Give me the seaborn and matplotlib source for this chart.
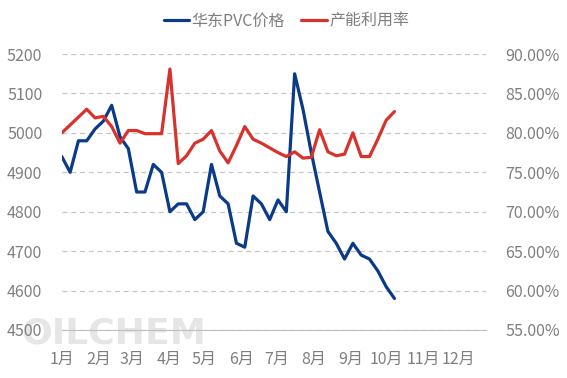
import pandas as pd
import matplotlib
matplotlib.use("Agg")
import matplotlib.pyplot as plt
import seaborn as sns
from matplotlib.lines import Line2D

# 周度数据
week_start = "2023-01-01"
pvc_price = [4940, 4900, 4980, 4980, 5010, 5030, 5070, 4990, 4960, 4850,
             4850, 4920, 4900, 4800, 4820, 4820, 4780, 4800, 4920, 4840,
             4820, 4720, 4710, 4840, 4820, 4780, 4830, 4800, 5150, 5060,
             4950, 4850, 4750, 4720, 4680, 4720, 4690, 4680, 4650, 4610,
             4580]
utilization = [80.0, 81.0, 82.0, 83.0, 81.9, 82.1, 80.8, 78.7, 80.3, 80.3,
               79.9, 79.9, 79.9, 88.1, 76.1, 77.1, 78.7, 79.2, 80.3, 77.7,
               76.2, 78.4, 80.8, 79.2, 78.7, 78.1, 77.5, 77.0, 77.6, 76.8,
               76.9, 80.4, 77.6, 77.1, 77.3, 80.0, 77.0, 77.0, 79.2, 81.6,
               82.7]
month_labels = [f"{m}月" for m in range(1, 13)]
series_names = ["华东PVC价格", "产能利用率"]

dates = pd.date_range(week_start, periods=len(pvc_price), freq="7D")
df = pd.DataFrame({"date": dates, "price": pvc_price, "rate": utilization})

sns.set_style("white")
plt.rcParams["font.family"] = ["Noto Sans CJK SC", "DejaVu Sans"]

blue = "#0b3a88"
red = "#d7322b"
grey = "#7f7f7f"

fig = plt.figure(figsize=(5.67, 3.78), dpi=100)
ax = fig.add_axes([0.109, 0.127, 0.748, 0.730])
ax.patch.set_visible(False)
ax2 = ax.twinx()

# 水印，放在所有元素之下
fig.text(0.037, 1 - 343 / 378, "OILCHEM", fontsize=26, fontweight="bold",
         color="#e6e6e6", family="DejaVu Sans", va="baseline", zorder=-1)

sns.lineplot(data=df, x="date", y="price", ax=ax, color=blue, lw=2.3, legend=False)
sns.lineplot(data=df, x="date", y="rate", ax=ax2, color=red, lw=2.3, legend=False)

ax.set_ylim(4500, 5200)
ax.set_yticks(range(4500, 5201, 100))
ax2.set_ylim(55, 90)
ax2.set_yticks(range(55, 91, 5))
ax2.set_yticklabels([f"{v:.2f}%" for v in range(55, 91, 5)])

ax.set_xlim(pd.Timestamp("2023-01-01"), pd.Timestamp("2023-12-24"))
ax.set_xticks(pd.date_range("2023-01-01", periods=12, freq="MS"))
ax.set_xticklabels(month_labels)

ax.yaxis.grid(True, ls=(0, (4, 3)), color="#c6c6c6", lw=0.9)
ax.set_axisbelow(True)
for a in (ax, ax2):
    a.set_xlabel("")
    a.set_ylabel("")
    for s in ("top", "left", "right"):
        a.spines[s].set_visible(False)
    a.spines["bottom"].set_color("#bfbfbf")
    a.tick_params(axis="y", length=0, labelsize=11.5, labelcolor=grey, pad=14)
ax2.spines["bottom"].set_visible(False)
ax.tick_params(axis="x", direction="in", length=5, color="#bfbfbf",
               labelsize=11.5, labelcolor=grey, pad=15)

handles = [Line2D([], [], color=blue, lw=2.3), Line2D([], [], color=red, lw=2.3)]
fig.legend(handles, series_names, loc="center", bbox_to_anchor=(0.505, 0.944),
           ncol=2, frameon=False, fontsize=11.5, labelcolor=grey,
           handlelength=1.6, handletextpad=0.15, columnspacing=1.0)

fig.savefig("out.png", dpi=100)
